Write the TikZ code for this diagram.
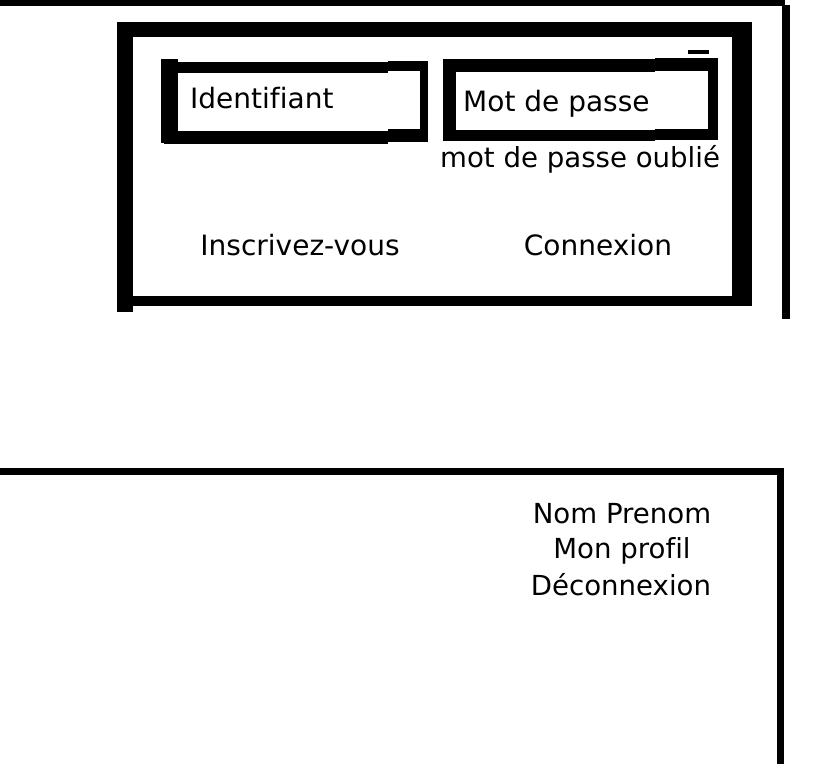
\documentclass[tikz,border=0pt]{standalone}
\usepackage{fontspec}
\setmainfont[Ligatures=NoCommon]{DejaVu Sans}
\begin{document}
\begin{tikzpicture}[x=1pt,y=-1pt,
  bar/.style={fill=black},
  lbl/.style={inner sep=0pt,font=\fontsize{28}{34}\selectfont},
  lbls/.style={inner sep=0pt,font=\fontsize{27.6}{33}\selectfont}]
\useasboundingbox[fill=white] (0,0) rectangle (837,764);
% top outer frame
\fill[bar] (0,0) rectangle (785,6);
\fill[bar] (782,5) rectangle (790,319);
% login box
\fill[bar] (117,22) rectangle (752,37);
\fill[bar] (117,22) rectangle (133,312);
\fill[bar] (732,22) rectangle (752,306);
\fill[bar] (117,296) rectangle (752,306);
% Identifiant field
\fill[bar] (161,59) rectangle (178,143);
\fill[bar] (161,62) rectangle (388,73);
\fill[bar] (388,61) rectangle (428,71);
\fill[bar] (164,131) rectangle (388,144);
\fill[bar] (388,129) rectangle (428,142);
\fill[bar] (420,61) rectangle (428,141);
% Mot de passe field
\fill[bar] (443,59) rectangle (456,141);
\fill[bar] (443,59) rectangle (655,72);
\fill[bar] (655,58) rectangle (718,71);
\fill[bar] (443,130) rectangle (655,141);
\fill[bar] (655,129) rectangle (718,140);
\fill[bar] (708,58) rectangle (718,140);
\fill[bar] (688,50) rectangle (709,54);
% texts
\node[lbl,anchor=base west] (ident) at (190,108) {Identifiant};
\node[lbl,anchor=base west] (mdp) at (463,111) {Mot de passe};
\node[lbls,anchor=base west] (oubli) at (440,167) {mot de passe oublié};
\node[lbl,anchor=base] (inscr) at (300,255) {Inscrivez-vous};
\node[lbl,anchor=base] (conn) at (598,255) {Connexion};
% bottom frame
\fill[bar] (0,468) rectangle (784,475);
\fill[bar] (777,468) rectangle (784,764);
\node[lbls,anchor=base] (nom) at (622,523) {Nom Prenom};
\node[lbls,anchor=base] (profil) at (622,558) {Mon profil};
\node[lbls,anchor=base] (deco) at (621,595) {Déconnexion};
\end{tikzpicture}
\end{document}
